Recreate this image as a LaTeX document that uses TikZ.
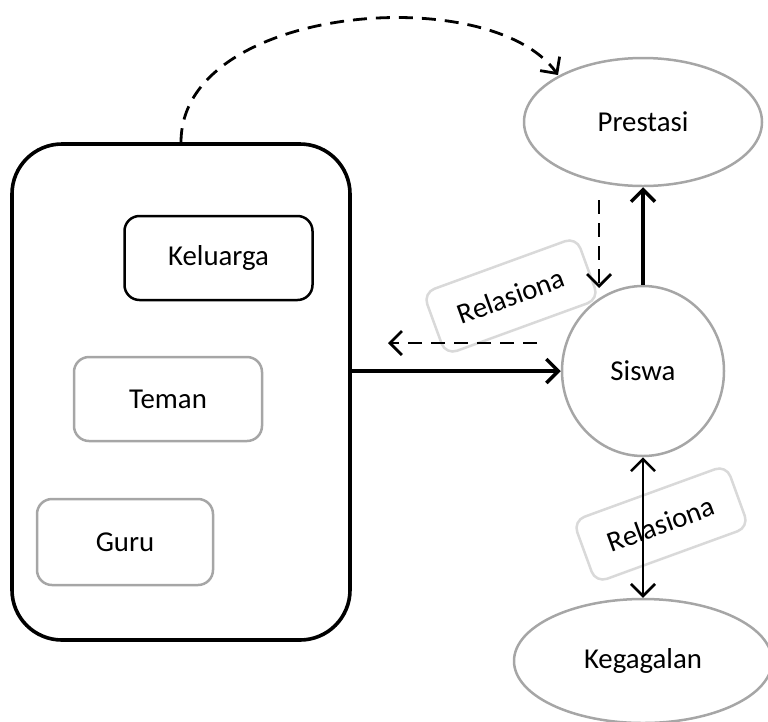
\documentclass[tikz,border=0pt]{standalone}
\usepackage{fontspec}
\setmainfont{Carlito}
\usetikzlibrary{arrows.meta,shapes.geometric}
\definecolor{grayline}{HTML}{A6A6A6}
\definecolor{lightline}{HTML}{D9D9D9}
\tikzset{
  lbl/.style={font=\fontsize{28.8}{32}\selectfont, text=black},
  innerbox/.style={lbl, rounded corners=15pt, line width=2.5pt, minimum width=188pt, minimum height=84pt, inner sep=0pt},
  oval/.style={lbl, ellipse, draw=grayline, line width=2.5pt, inner sep=0pt},
  relbox/.style={lbl, draw=lightline, line width=2.5pt, rounded corners=12pt, minimum width=163pt, minimum height=66pt, rotate=20, inner sep=0pt, fill=white},
  tip/.style={-{Straight Barb[length=12pt,width=24pt]}},
  solidarrow/.style={tip, line width=3.5pt},
  dasharrow/.style={tip, line width=2.8pt, dash pattern=on 14pt off 9pt},
}
\begin{document}
\begin{tikzpicture}[x=1pt,y=-1pt]
\useasboundingbox (0,0) rectangle (768,721);

% big rounded box
\node[draw, line width=3.6pt, rounded corners=50pt, minimum width=338pt, minimum height=496pt, inner sep=0pt] (big) at (181,392) {};
\node[innerbox, draw=black] (keluarga) at (218.5,258) {Keluarga};
\node[innerbox, draw=grayline] (teman) at (168,399) {Teman};
\node[innerbox, draw=grayline, minimum width=176pt, minimum height=86pt] (guru) at (125,542) {Guru};

% right side
\node[oval, minimum width=238pt, minimum height=128pt] (prestasi) at (643,122) {Prestasi};
\node[oval, minimum width=162pt, minimum height=170pt] (siswa) at (643,371) {Siswa};
\node[oval, minimum width=258pt, minimum height=124pt] (kegagalan) at (643,661) {Kegagalan};

% relasiona labels
\node[relbox] (rel1) at (511,296) {Relasiona};

% coordinates for free ends
\coordinate (dlS) at (537,343);
\coordinate (dlE) at (388,343);
\coordinate (ddS) at (599,200);
\coordinate (ddE) at (599,288);
\coordinate (curveE) at (558,75);

% connectors
\draw[solidarrow] (big.east |- siswa.west) -- (siswa.west);
\draw[solidarrow] (siswa) -- (prestasi);
\draw[dasharrow] (dlS) -- (dlE);
\draw[dasharrow] (ddS) -- (ddE);
\draw[dasharrow] (big.north) .. controls (181,5) and (490,-20) .. (curveE);

\node[relbox] (rel2) at (661,524) {Relasiona};
\draw[{Straight Barb[length=12pt,width=24pt]}-{Straight Barb[length=12pt,width=24pt]}, line width=2.6pt] (siswa) -- (kegagalan);
\end{tikzpicture}
\end{document}
